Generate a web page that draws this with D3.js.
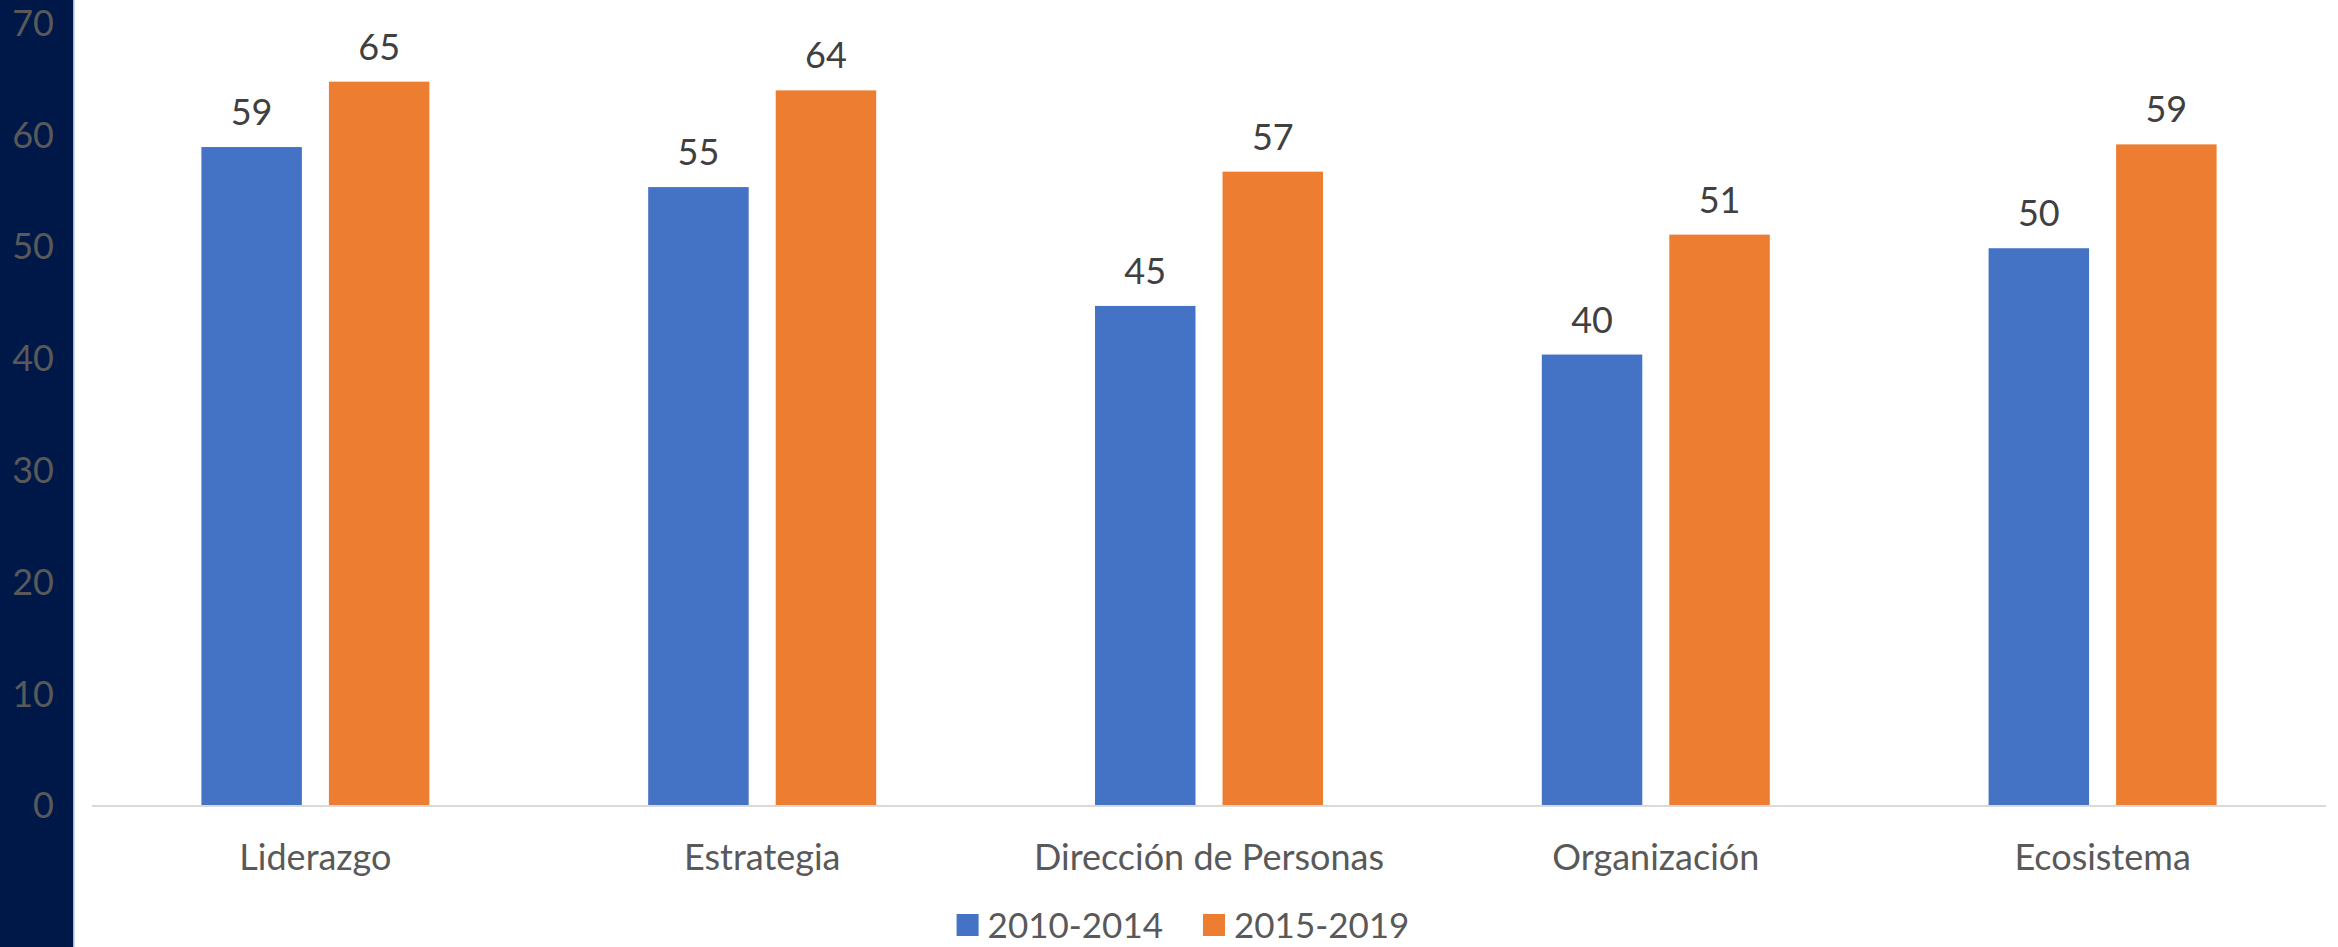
<!DOCTYPE html>
<html>
<head>
<meta charset="utf-8">
<script src="https://cdn.jsdelivr.net/npm/d3@7"></script>
<style>
  html, body { margin: 0; padding: 0; background: #ffffff; }
  svg { display: block; }
  text { font-family: Lato, "Open Sans", sans-serif; }
</style>
</head>
<body>
<svg id="chart" width="2338" height="947"></svg>
<script>
// ---- data ----
const categories = ["Liderazgo", "Estrategia", "Dirección de Personas", "Organización", "Ecosistema"];
const seriesNames = ["2010-2014", "2015-2019"];
const values2010_2014 = [58.85, 55.27, 44.64, 40.29, 49.8];
const values2015_2019 = [64.7, 63.92, 56.65, 51.02, 59.09];
const yTicks = [0, 10, 20, 30, 40, 50, 60, 70];
const seriesColors = ["#4472C4", "#ED7D31"];

const seriesValues = [values2010_2014, values2015_2019];

const W = 2338, H = 947;
const svg = d3.select("#chart");

// left navy band
svg.append("rect").attr("x", 0).attr("y", 0).attr("width", 73).attr("height", H).attr("fill", "#001848");
svg.append("rect").attr("x", 73).attr("y", 0).attr("width", 1.5).attr("height", H).attr("fill", "#9DB9E8");

const plotLeft = 92, plotRight = 2326, yBase = 805, yTop = 22.4;

const x0 = d3.scaleBand().domain(categories).range([plotLeft, plotRight]).paddingInner(0).paddingOuter(0);
const groupW = 228;
const x1 = d3.scaleBand().domain(seriesNames).range([0, groupW]).paddingInner(0.212).paddingOuter(0);
const y = d3.scaleLinear().domain([0, 70]).range([yBase, yTop]);

// y tick labels (on navy band)
const yAxis = d3.axisLeft(y).tickValues(yTicks).tickSize(0).tickPadding(0).tickFormat(d3.format("d"));
const yg = svg.append("g").attr("transform", "translate(54,0)").call(yAxis);
yg.select(".domain").remove();
yg.selectAll("text")
  .attr("fill", "#595959")
  .attr("font-size", 36)
  .attr("font-family", "Lato, 'Open Sans', sans-serif")
  .attr("dy", "0.36em");

// bars
const groups = svg.append("g").selectAll("g")
  .data(categories)
  .join("g")
  .attr("transform", c => `translate(${x0(c) + (x0.bandwidth() - groupW) / 2},0)`);

groups.selectAll("rect")
  .data((c, i) => seriesNames.map((s, k) => ({ s, v: seriesValues[k][i], k })))
  .join("rect")
  .attr("x", d => x1(d.s))
  .attr("y", d => y(d.v))
  .attr("width", x1.bandwidth())
  .attr("height", d => yBase - y(d.v))
  .attr("fill", d => seriesColors[d.k]);

groups.selectAll("text.lbl")
  .data((c, i) => seriesNames.map((s, k) => ({ s, v: seriesValues[k][i], k })))
  .join("text")
  .attr("class", "lbl")
  .attr("x", d => x1(d.s) + x1.bandwidth() / 2)
  .attr("y", d => y(d.v) - 22)
  .attr("text-anchor", "middle")
  .attr("font-size", 36)
  .attr("fill", "#404040")
  .text(d => d3.format(".0f")(d.v));

// x axis line
svg.append("line")
  .attr("x1", plotLeft).attr("x2", plotRight)
  .attr("y1", yBase + 1).attr("y2", yBase + 1)
  .attr("stroke", "#D9D9D9").attr("stroke-width", 2);

// category labels
const xAxis = d3.axisBottom(x0).tickSize(0).tickPadding(0);
const xg = svg.append("g").attr("transform", `translate(0,${yBase})`).call(xAxis);
xg.select(".domain").remove();
xg.selectAll("text")
  .attr("y", 65)
  .attr("dy", 0)
  .attr("fill", "#595959")
  .attr("font-size", 36)
  .attr("font-family", "Lato, 'Open Sans', sans-serif");

// legend
const legend = svg.append("g");
const sq = 22, gapTxt = 9, gapItem = 40;
let cx = 0;
seriesNames.forEach((s, k) => {
  const g = legend.append("g").attr("transform", `translate(${cx},0)`);
  g.append("rect").attr("x", 0).attr("y", -sq / 2).attr("width", sq).attr("height", sq).attr("fill", seriesColors[k]);
  const t = g.append("text").attr("x", sq + gapTxt).attr("y", 0).attr("dy", "0.36em")
    .attr("font-size", 35).attr("fill", "#595959").text(s);
  cx += sq + gapTxt + t.node().getComputedTextLength() + gapItem;
});
const legendW = cx - gapItem;
legend.attr("transform", `translate(${1183 - legendW / 2},925)`);
</script>
</body>
</html>
